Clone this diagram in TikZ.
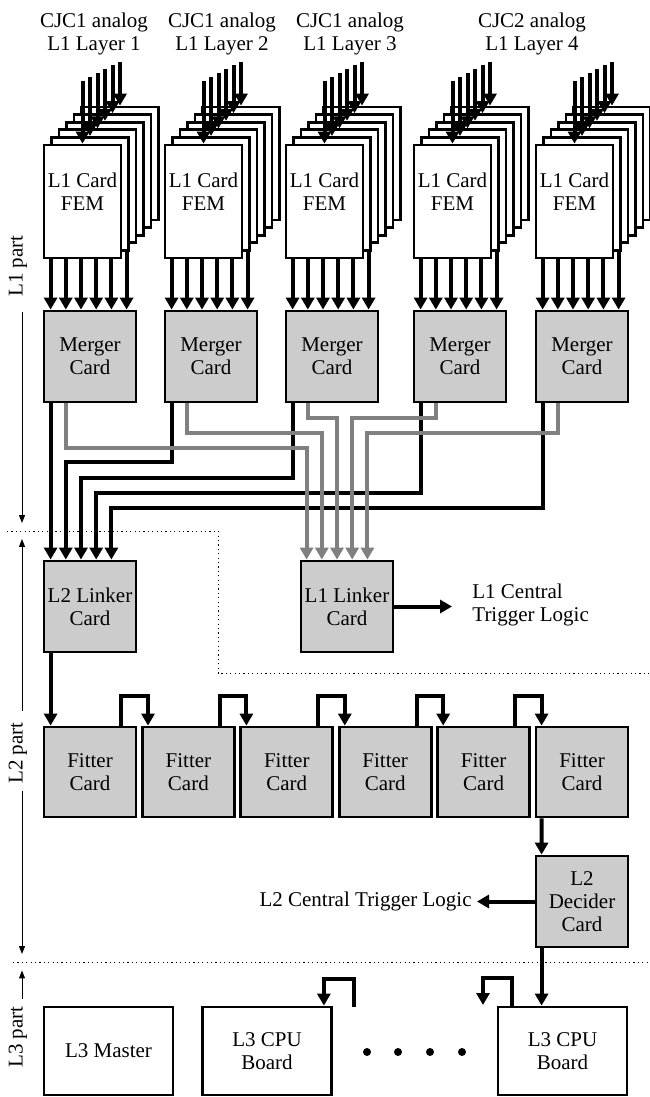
\documentclass[tikz,border=0pt]{standalone}
\usepackage{fontspec}
\setmainfont{Liberation Serif}
\usetikzlibrary{arrows.meta, calc}
\definecolor{cFill}{RGB}{204,204,204}
\definecolor{cWire}{RGB}{128,128,128}
\tikzset{
  card/.style={draw, line width=1.4pt, fill=white, inner sep=0pt, align=center},
  femcard/.style={card, minimum width=38.5pt, minimum height=56.5pt},
  greycard/.style={card, fill=cFill, minimum width=46pt, minimum height=45.5pt},
  boardcard/.style={card, minimum width=64.5pt, minimum height=44pt},
  bus/.style={line width=2pt, -{Triangle[length=6pt,width=6.5pt]}},
  greybus/.style={bus, draw=cWire},
  loopbus/.style={line width=2pt},
  partlbl/.style={rotate=90, inner sep=0pt},
  partline/.style={line width=0.5pt, -{Triangle[length=4pt,width=3pt]}},
  sepline/.style={line width=0.5pt, dash pattern=on 0.6pt off 1.6pt}
}
\begin{document}
\begin{tikzpicture}[x=0.5pt, y=-0.5pt, every node/.style={font=\fontsize{10.5pt}{11.5pt}\selectfont}]
\useasboundingbox (0,0) rectangle (649,1097);

\node[align=center] (lab1) at (94,33.5) {CJC1 analog\\L1 Layer 1};
\node[align=center] (lab2) at (222,33.5) {CJC1 analog\\L1 Layer 2};
\node[align=center] (lab3) at (350,33.5) {CJC1 analog\\L1 Layer 3};
\node[align=center] (lab4) at (532,33.5) {CJC2 analog\\L1 Layer 4};

\foreach \c/\xl in {1/44,2/165,3/286,4/414,5/536}
  \node[greycard] (m\c) at (\xl+46,356.5) {Merger\\Card};

\foreach \c/\xl in {1/44,2/165,3/286,4/414,5/536} {
  \foreach \k in {0,...,5}
    \draw[bus] ($(m\c.north west)+({8+15.2*\k},-71)$) -- ($(m\c.north west)+({8+15.2*\k},0)$);
  \foreach \k in {5,4,...,0}
    \node[femcard] (fem\c-\k) at ({\xl+38.5+7.5*\k},{201.5-7.6*\k}) {};
  \foreach \k in {0,...,5}
    \draw[bus] ($(fem\c-\k.north)+(0,{-63+3.8*\k})$) -- (fem\c-\k.north);
  \node[align=center] (femtxt\c) at ([yshift=4.75pt]fem\c-0.center) {L1 Card\\FEM};
}

\node[greycard] (l2link) at (90,606.5) {L2 Linker\\Card};
\node[greycard] (l1link) at (347,606.5) {L1 Linker\\Card};

\draw[bus] ($(m1.south west)+(8,0)$) -- ($(l2link.north west)+(8,0)$);
\foreach \c/\i/\y in {2/1/461,3/2/476.3,4/3/491.6,5/4/506.9}
  \draw[bus] ($(m\c.south west)+(8,0)$) -- ++(0,{\y-402}) -| ($(l2link.north west)+({8+15.2*\i},0)$);
\foreach \c/\y in {1/447,2/432,3/417,4/417,5/432}
  \draw[greybus] ($(m\c.south west)+(23,0)$) -- ++(0,{\y-402}) -| ($(l1link.north west)+({7+15.2*(\c-1)},0)$);

\node[anchor=west, align=left, inner xsep=10pt] (l1ctl) at (452,605) {L1 Central\\Trigger Logic};
\draw[bus] (l1link.east) -- (l1link.east -| l1ctl.west);

\draw[sepline] (7,531) -- (218,531) -- (218,673) -- (649,673);

\foreach \i in {1,...,6}
  \node[greycard, minimum height=45pt] (f\i) at ({90+98.4*(\i-1)},772) {Fitter\\Card};
\draw[bus] ($(l2link.south west)+(8,0)$) -- ($(f1.north west)+(8,0)$);
\foreach \i/\j in {1/2,2/3,3/4,4/5,5/6}
  \draw[bus] ($(f\i.north east)+(-16,0)$) -- ++(0,-30) -| ($(f\j.north west)+(7,0)$);

\node[greycard] (dec) at (582,901.5) {L2\\Decider\\Card};
\draw[bus] ($(f6.south west)+(7,0)$) -- ($(dec.north west)+(7,0)$);
\node[anchor=east, inner xsep=2.5pt] (l2ctl) at (477,901) {L2 Central Trigger Logic};
\draw[bus] (dec.west) -- (dec.west -| l2ctl.east);

\draw[sepline] (13,962) -- (649,962);

\node[boardcard] (l3m) at (108.5,1051) {L3 Master};
\node[boardcard] (cpu1) at (267,1051) {L3 CPU\\Board};
\node[boardcard] (cpu2) at (562.5,1051) {L3 CPU\\Board};
\draw[bus] ($(dec.south west)+(7,0)$) -- ($(cpu2.north west)+(45,0)$);
\coordinate (cpu1from) at (354,1007);
\draw[bus] (cpu1from) -- ++(0,-28) -| ($(cpu1.north east)+(-9,0)$);
\coordinate (cpu2to) at (483,1005);
\draw[bus] ($(cpu2.north west)+(15,0)$) -- ++(0,-28) -| (cpu2to);
\foreach \x in {367,398,430,462}
  \fill (\x,1052) circle[radius=2pt];

\node[partlbl] (p1) at (18,266) {L1 part};
\draw[partline] ($(p1.west)+(4,15)$) -- ++(0,211);
\node[partlbl] (p2) at (18,753) {L2 part};
\draw[partline] ($(p2.east)+(4,-11)$) -- ++(0,-172);
\draw[partline] ($(p2.west)+(4,7)$) -- ++(0,163);
\node[partlbl] (p3) at (18,1037) {L3 part};
\draw[partline] ($(p3.east)+(4,-7)$) -- ++(0,-28.5);
\end{tikzpicture}
\end{document}
